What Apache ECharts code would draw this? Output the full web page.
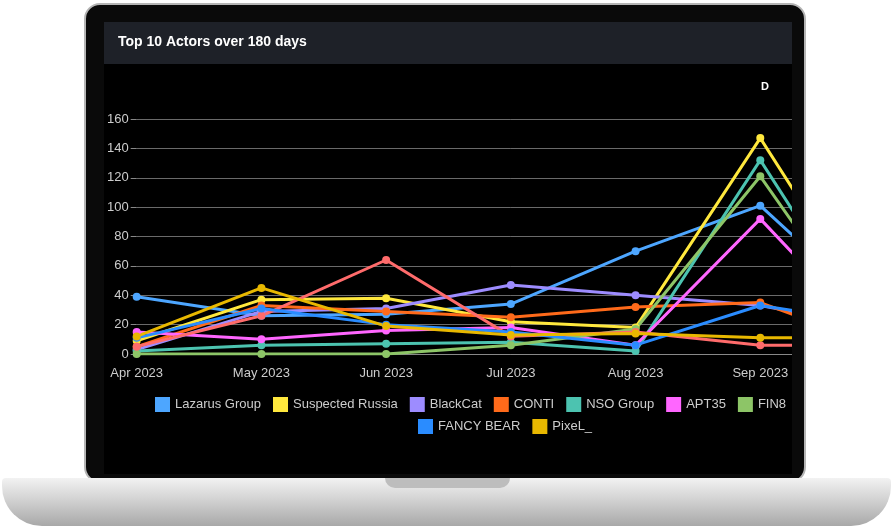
<!DOCTYPE html>
<html><head><meta charset="utf-8">
<script src="https://cdn.jsdelivr.net/npm/echarts@6/dist/echarts.min.js"></script>
<style>
body{margin:0;background:#fff;width:893px;height:532px;position:relative;overflow:hidden;font-family:Arial,"Liberation Sans",sans-serif}
#lid{position:absolute;left:84px;top:3px;width:722px;height:480px;border-radius:16px;background:#0a0a0a;border:2px solid #b5b5b5;box-sizing:border-box}
#base{position:absolute;left:2px;top:478px;width:889px;height:48px;border-radius:4px 4px 40px 40px;background:linear-gradient(#f2f2f2,#d6d6d6 40%,#a8a8a8)}
#notch{position:absolute;left:385px;top:478px;width:125px;height:10px;border-radius:0 0 10px 10px;background:#bdbdbd}
#clip{position:absolute;left:104px;top:22px;width:688px;height:452px;overflow:hidden;background:#000}
#c{width:820px;height:452px}
</style></head><body>
<div id="lid"></div><div id="base"></div><div id="notch"></div>
<div id="clip"><div id="c"></div></div>
<script>
const categories=['Apr 2023','May 2023','Jun 2023','Jul 2023','Aug 2023','Sep 2023','Oct 2023'];
const names=['Lazarus Group','Suspected Russia','BlackCat','CONTI','NSO Group','APT35','FIN8','Unknown','FANCY BEAR','PixeL_'];
const colors=['#4da6ff','#ffe83d','#9d8cff','#ff6a1a','#4cc3b0','#ff66ff','#8dc567','#ff6b6b','#2a8cff','#e8b800'];
const lazarus=[39,26,27,34,70,101,23];
const suspectedRussia=[9,37,38,22,18,147,14];
const blackCat=[3,29,31,47,40,33,17];
const conti=[5,33,29,25,32,35,4];
const nso=[2,6,7,8,2,132,0];
const apt35=[15,10,16,18,6,92,2];
const fin8=[0,0,0,6,17,121,0];
const unknown=[5,26,64,12,15,6,6];
const fancyBear=[11,31,20,15,6,33,20];
const pixel=[12,45,19,13,14,11,11];
const values=[lazarus,suspectedRussia,blackCat,conti,nso,apt35,fin8,unknown,fancyBear,pixel];
const legendText={color:'#ccc',fontSize:13};
const ch=echarts.init(document.getElementById('c'));
ch.setOption({
 backgroundColor:'#000',animation:false,
 graphic:[{type:'rect',left:0,top:0,shape:{width:688,height:42},style:{fill:'#1e2128'}},
  {type:'text',left:14,top:13,style:{text:'Top 10 Actors over 180 days',fill:'#fff',font:'bold 14px Arial'}},
  {type:'text',left:657,top:59,style:{text:'D',fill:'#fff',font:'bold 11px Arial'}}],
 grid:{left:32,right:39,top:97,bottom:120},
 legend:[{top:370,left:46,width:2000,itemWidth:15,itemHeight:15,itemGap:12,icon:'rect',
  data:names.slice(0,8),textStyle:legendText},
  {top:392,left:309,width:2000,itemWidth:15,itemHeight:15,itemGap:12,icon:'rect',
  data:names.slice(8),textStyle:legendText}],
 xAxis:{type:'category',boundaryGap:false,data:categories,
  axisLine:{lineStyle:{color:'#888'}},axisTick:{show:false},
  axisLabel:{color:'#ccc',fontSize:13,margin:13}},
 yAxis:{type:'value',min:0,max:160,interval:20,
  axisLine:{show:false},axisTick:{show:true,length:6,lineStyle:{color:'#888'}},
  axisLabel:{color:'#ccc',fontSize:13,margin:8},
  splitLine:{lineStyle:{color:'#6a6a6a',width:1}}},
 series:names.map((n,i)=>({name:n,type:'line',data:values[i],symbol:'circle',symbolSize:8,
  lineStyle:{width:3,color:colors[i]},itemStyle:{color:colors[i]}}))
});
</script></body></html>
